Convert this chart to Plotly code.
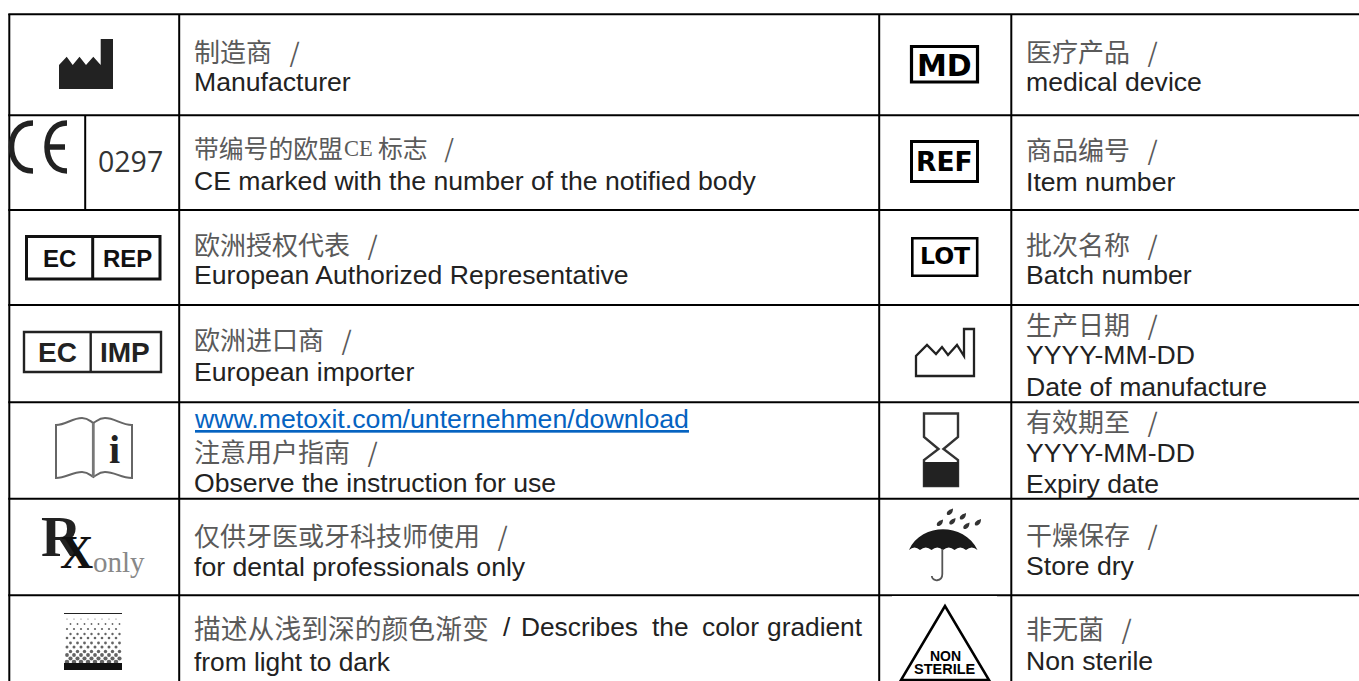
import plotly.graph_objects as go

W, H = 1359, 681
LATIN = "Liberation Sans"
CJK = "Noto Sans CJK SC"
INK = "#222222"
CJK_INK = "#5a5a5a"
LINK = "#0563C1"

# table grid
h_rules = [14.3, 115.3, 210, 305, 402.2, 498.8, 595.3]
v_rules = [9.3, 179.2, 879.2, 1011.3]

# text cells: (x, y-centre, text)
SL = "\u00a0\u00a0\u00a0/"
cjk_texts = [
    (194, 50, "制造商" + SL), (194, 243, "欧洲授权代表" + SL), (194, 338, "欧洲进口商" + SL),
    (194, 450, "注意用户指南" + SL), (194, 534, "仅供牙医或牙科技师使用" + SL),
    (1026, 50, "医疗产品" + SL), (1026, 148, "商品编号" + SL), (1026, 243, "批次名称" + SL),
    (1026, 323, "生产日期" + SL), (1026, 420, "有效期至" + SL), (1026, 533, "干燥保存" + SL),
    (1026, 627, "非无菌" + SL),
]
cjk_ce_row = [(194, 147, "带编号的欧盟"), (378, 147, "标志" + SL)]
latin_texts = [
    (194, 82, "Manufacturer"), (194, 181, "CE marked with the number of the notified body"),
    (194, 275, "European Authorized Representative"), (194, 372, "European importer"),
    (194, 483, "Observe the instruction for use"), (194, 567, "for dental professionals only"),
    (1026, 82, "medical device"), (1026, 182, "Item number"), (1026, 275, "Batch number"),
    (1026, 355, "YYYY-MM-DD"), (1026, 387, "Date of manufacture"),
    (1026, 453, "YYYY-MM-DD"), (1026, 484, "Expiry date"),
    (1026, 566, "Store dry"), (1026, 661, "Non sterile"),
]
url_text = (194, 419, "www.metoxit.com/unternehmen/download")
gradient_cjk = (194, 627, "描述从浅到深的颜色渐变")
gradient_words = [(503, "/"), (521, "Describes"), (652, "the"), (702, "color"), (767, "gradient")]
gradient_line2 = (194, 662, "from light to dark")

# gradient swatch dots: (y, diameter)
swatch_rows = [(619, 1.2), (624, 1.8), (629, 2.2), (634, 2.4), (638, 2.6), (643, 2.8), (647, 3),
               (651.5, 3.4), (655, 3.8), (658.5, 4.2), (662, 4.6)]

# rain drops of the umbrella icon
drops = [(949.5, 512), (962.5, 516.5), (952, 521.5), (939.5, 523), (966, 526), (977.5, 522.5)]

shapes = []
anns = []


def line(x0, y0, x1, y1, w=2, c="#000000"):
    shapes.append(dict(type="line", xref="x", yref="y", x0=x0, y0=y0, x1=x1, y1=y1,
                       line=dict(color=c, width=w)))


def rect(x0, y0, x1, y1, w=2, c=INK, fill="rgba(0,0,0,0)"):
    shapes.append(dict(type="rect", xref="x", yref="y", x0=x0, y0=y0, x1=x1, y1=y1,
                       line=dict(color=c, width=w), fillcolor=fill))


def path(d, w=0, c=INK, fill="rgba(0,0,0,0)"):
    shapes.append(dict(type="path", xref="x", yref="y", path=d,
                       line=dict(color=c, width=w), fillcolor=fill))


def text(x, y, s, size, family=LATIN, color=INK, anchor="left"):
    anns.append(dict(x=x, y=y, xref="x", yref="y", text=s, showarrow=False, xanchor=anchor,
                     yanchor="middle", borderpad=0, borderwidth=0,
                     font=dict(family=family, size=size, color=color)))


# grid
for y in h_rules:
    line(8.3, y, W, y)
for x in v_rules:
    line(x, 14, x, H)
line(85.2, 115, 85.2, 210)

# text
for x, y, s in cjk_texts:
    text(x, y, s, 26, CJK, CJK_INK)
for x, y, s in cjk_ce_row:
    text(x, y, s, 24.8, CJK, CJK_INK)
for x, y, s in latin_texts:
    text(x, y, s, 26.6, LATIN, INK)
text(344, 148, "CE", 22.5, "Liberation Serif", CJK_INK)
text(url_text[0], url_text[1], "<u>" + url_text[2] + "</u>", 26.7, LATIN, LINK)
text(gradient_cjk[0], gradient_cjk[1], gradient_cjk[2], 26.8, CJK, CJK_INK)
for x, s in gradient_words:
    text(x, 627, s, 26.3, LATIN, INK)
text(gradient_line2[0], gradient_line2[1], gradient_line2[2], 26.3, LATIN, INK)

# factory (solid)
path("M59,89 L59,65 L66.7,56.7 L72.7,65 L79.5,56.7 L86,65 L93.3,56.7 L100.7,65 L100.7,39 L113,39 L113,89 Z",
     fill=INK)

# CE mark
path("M33,123 C18,123 11.5,135 11.5,147 C11.5,159 18,171 33,171", w=5.5, c="#222222")
path("M67,123 C53,123 47,135 47,147 C47,159 53,171 67,171 M47,147 L65,147", w=5.5, c="#222222")
text(130, 161, "0297", 28.5, "Open Sans", "#333333", "center")

# EC REP
rect(26.5, 236.5, 160, 279, 3, "#111111")
line(92.7, 236, 92.7, 279, 3, "#111111")
text(59.5, 258, "<b>EC</b>", 24, LATIN, "#111111", "center")
text(127, 258, "<b>REP</b>", 24, LATIN, "#111111", "center")

# EC IMP
rect(24, 332, 161, 372, 2.4, "#222222")
line(90.7, 332, 90.7, 372, 2.4, "#222222")
text(57.3, 352, "<b>EC</b>", 28, LATIN, "#222222", "center")
text(125, 352, "<b>IMP</b>", 28, LATIN, "#222222", "center")

# book with i
path("M56,425 C66,425 72,418 82,418 C88,418 90,421 93.3,423 C97,421 99,418 105,418 C115,418 121,425 132,425 "
     "L132,478 C121,478 115,472 105,472 C99,472 97,475 93.3,477 C90,475 88,472 82,472 C72,472 66,478 56,478 Z",
     w=2, c="#666666")
line(93.3, 423, 93.3, 477, 2.8, "#777777")
text(114, 449, "<b>i</b>", 40, "Liberation Serif", "#222222", "center")

# Rx only
text(61, 537, "<b>R</b>", 56, "Liberation Serif", "#222222", "center")
text(76, 552, "<b>X</b>", 46, "Liberation Serif", "#111111", "center")
text(119, 562, "only", 29, "Liberation Serif", "#888888", "center")

# gradient swatch
line(64, 613.5, 122, 613.5, 1.2, "#222222")
rect(64, 663, 122, 670, 0, "#111111", "#111111")
dot_x, dot_y, dot_s = [], [], []
for i, (y, d) in enumerate(swatch_rows):
    x = 67 + (i % 2) * 3.5
    while x < 122:
        dot_x.append(x)
        dot_y.append(y)
        dot_s.append(d)
        x += 7

# MD / REF / LOT
rect(911.5, 46.5, 977.5, 82, 3.2, "#000000")
text(944, 65, "<b>MD</b>", 30, "DejaVu Sans", "#000000", "center")
rect(911.5, 141.5, 977.5, 181.5, 3, "#000000")
text(944, 161, "<b>REF</b>", 26.5, "DejaVu Sans", "#000000", "center")
rect(912.3, 238.3, 977.2, 275.7, 2.6, "#000000")
text(944.5, 256, "<b>LOT</b>", 23.5, "DejaVu Sans", "#000000", "center")

# factory (outline)
path("M916,376 L916,356 L927,345 L936,354 L942,347 L948,355 L957,345 L964,356 L964,329 L974,329 L974,376 Z",
     w=2.3, c="#222222")

# hourglass
path("M924,413.5 L958,413.5 L958,437 L943.5,449 L958,460 L958,486 L924,486 L924,460 L938.5,449 L924,437 Z",
     w=2.4, c="#333333")
rect(923.5, 462, 958.5, 486.5, 0, "#222222", "#222222")

# umbrella
path("M909,550 C915,536 930,529.3 943,529.3 C956,529.3 971,536 977.5,550 "
     "Q971.8,545 966,550 Q960.3,545 954.5,550 Q948.8,545 943,550 Q937.3,545 931.5,550 Q925.8,545 920,550 Q914.5,545 909,550 Z",
     fill="#1a1a1a")
path("M942.3,549 L942.3,574 C942.3,582 932,582 931.8,576", w=1.8, c="#555555")
for x, y in drops:
    path(f"M{x + 3.5},{y - 3.5} C{x + 3.5},{y + 1} {x + 1},{y + 3.5} {x - 2},{y + 3} "
         f"C{x - 4},{y + 1} {x - 2},{y - 2} {x + 3.5},{y - 3.5} Z", fill="#333333")

# non sterile (white notch over rule, then triangle)
rect(892, 596, 997, 600, 0, "#ffffff", "#ffffff")
path("M945,606 L901,680 L989,680 Z", w=2.5, c="#000000")
text(945, 656, "<b>NON</b>", 14, LATIN, "#000000", "center")
text(945, 669, "<b>STERILE</b>", 14.5, LATIN, "#000000", "center")

fig = go.Figure(go.Scatter(x=dot_x, y=dot_y, mode="markers", hoverinfo="skip", showlegend=False,
                           marker=dict(size=dot_s, color="#222222", line=dict(width=0))))
fig.update_layout(
    width=W, height=H, margin=dict(l=0, r=0, t=0, b=0),
    paper_bgcolor="#ffffff", plot_bgcolor="#ffffff", showlegend=False,
    xaxis=dict(range=[0, W], visible=False, fixedrange=True),
    yaxis=dict(range=[H, 0], visible=False, fixedrange=True),
    shapes=shapes, annotations=anns,
)
fig.write_html("out.html", config={"displayModeBar": False},
               post_script="document.body.style.margin='0';document.body.style.overflow='hidden';")
